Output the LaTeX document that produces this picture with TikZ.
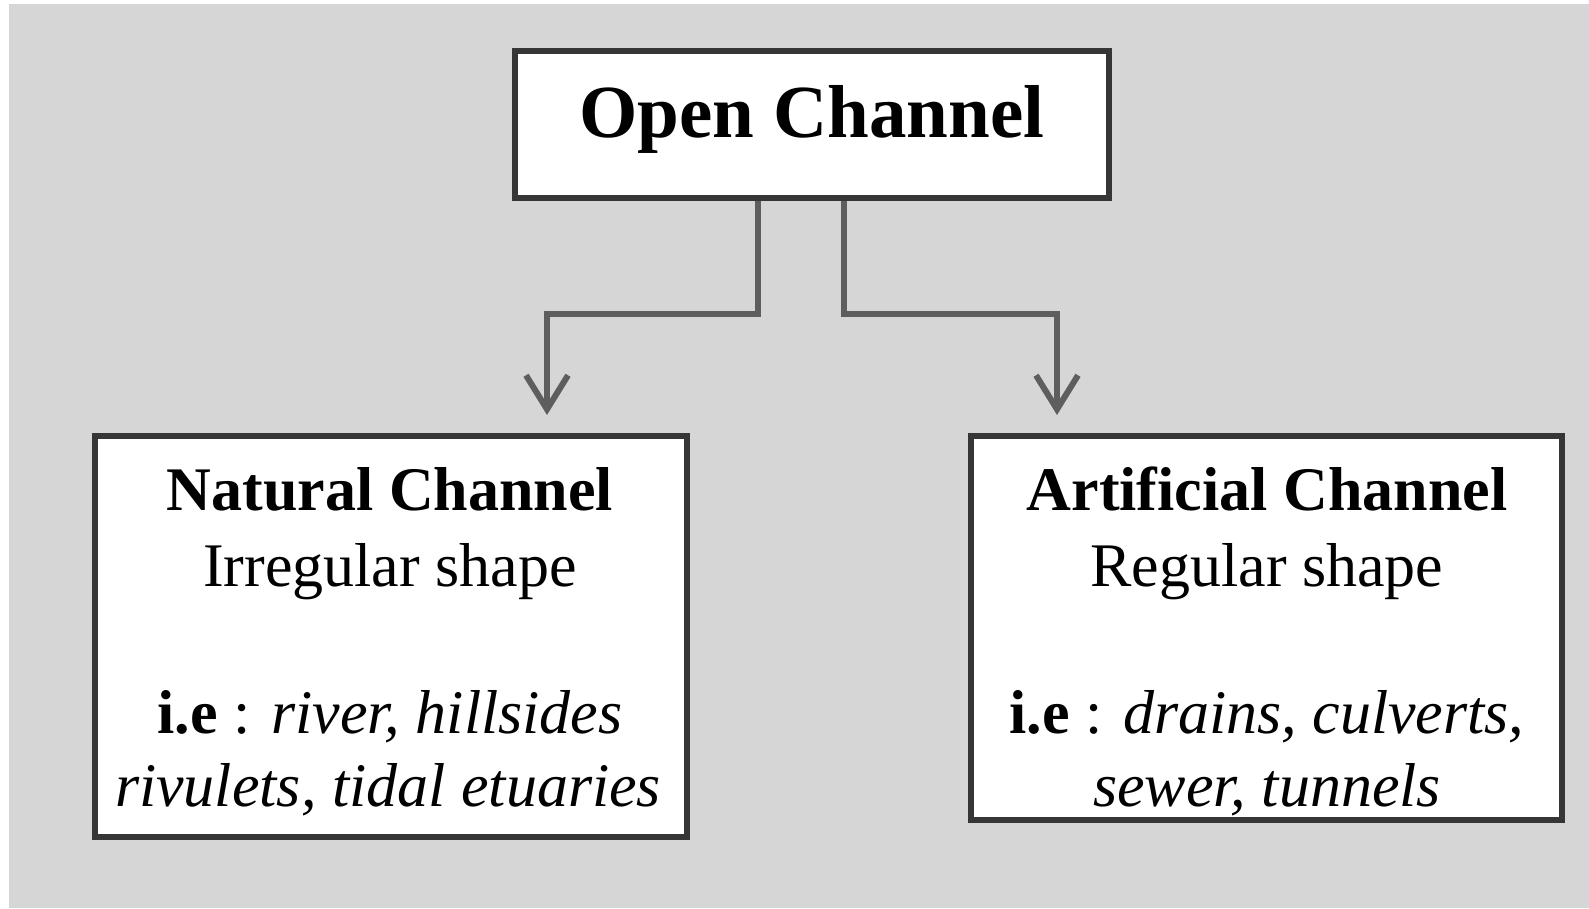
\documentclass[tikz,border=0pt]{standalone}
\usepackage{fontspec}
\setmainfont{Liberation Serif}
\usetikzlibrary{arrows.meta}
\definecolor{bggray}{HTML}{D6D6D6}
\definecolor{boxline}{HTML}{363636}
\definecolor{connline}{HTML}{5E5E5E}
\begin{document}
\begin{tikzpicture}[x=1pt,y=-1pt,
  box/.style={draw=boxline, line width=6.5pt, fill=white, inner sep=0pt, outer sep=0pt},
  connector/.style={draw=connline, line width=6.5pt, line join=miter,
     -{Straight Barb[length=34pt,width=42pt,line width=6pt]}},
  bigtitle/.style={anchor=base, font=\fontsize{75}{80}\selectfont\bfseries},
  subtitle/.style={anchor=base, font=\fontsize{62}{68}\selectfont\bfseries},
  plainline/.style={anchor=base, font=\fontsize{62}{68}\selectfont}
]
\useasboundingbox (0,0) rectangle (1589,908);
\fill[white] (0,0) rectangle (1589,908);
\fill[bggray] (9,4) rectangle (1589,908);

% boxes
\node[box, minimum width=594pt, minimum height=147pt] (top) at (812,124.5) {};
\node[box, minimum width=592pt, minimum height=401pt] (left) at (391,636.5) {};
\node[box, minimum width=591pt, minimum height=384pt] (right) at (1266.5,628) {};

% connectors
\draw[connector] ([xshift=-54pt,yshift=-3pt]top.south) -- ++(0,113)
   -| ([xshift=156pt,yshift=21pt]left.north);
\draw[connector] ([xshift=32pt,yshift=-3pt]top.south) -- ++(0,113)
   -| ([xshift=-209.5pt,yshift=21pt]right.north);

% texts
\node[bigtitle] (ttop) at (812,137) {Open Channel};

\node[subtitle] (tl1) at (390,510) {Natural Channel};
\node[plainline] (tl2) at (390,586) {Irregular shape};
\node[plainline] (tl3) at (390,733) {\textbf{i.e} : \textit{river, hillsides}};
\node[plainline] (tl4) at (388,806) {\textit{rivulets, tidal etuaries}};

\node[subtitle] (tr1) at (1267,510) {Artificial Channel};
\node[plainline] (tr2) at (1267,586) {Regular shape};
\node[plainline] (tr3) at (1267,733) {\textbf{i.e} : \textit{drains, culverts,}};
\node[plainline] (tr4) at (1267,806) {\textit{sewer, tunnels}};
\end{tikzpicture}
\end{document}
